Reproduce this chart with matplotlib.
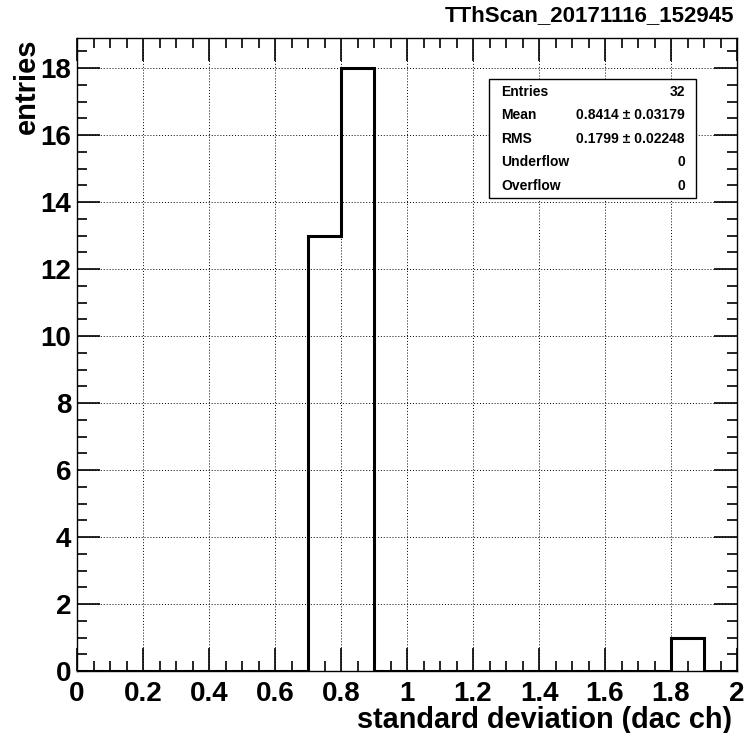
import matplotlib
matplotlib.use("Agg")
import matplotlib.pyplot as plt
import numpy as np
from matplotlib.ticker import MultipleLocator

plt.rcParams['font.family'] = ['Liberation Sans', 'DejaVu Sans']

bin_edges = [round(0.1 * i, 1) for i in range(21)]
counts = [0, 0, 0, 0, 0, 0, 0, 13, 18, 0, 0, 0, 0, 0, 0, 0, 0, 0, 1, 0]
title = "TThScan_20171116_152945"
xlabel = "standard deviation (dac ch)"
ylabel = "entries"
stats_labels = ["Entries", "Mean", "RMS", "Underflow", "Overflow"]
stats_values = ["32", "0.8414 \u00b1 0.03179", "0.1799 \u00b1 0.02248", "0", "0"]

fig = plt.figure(figsize=(7.51, 7.33), dpi=100)
ax = fig.add_axes([77/751, 1-671/733, (737-77)/751, (671-38)/733])

ax.stairs(counts, bin_edges, color='black', linewidth=2.2, baseline=0)

ax.xaxis.set_major_locator(MultipleLocator(0.2))
ax.xaxis.set_minor_locator(MultipleLocator(0.05))
ax.yaxis.set_major_locator(MultipleLocator(2))
ax.yaxis.set_minor_locator(MultipleLocator(0.5))

ax.tick_params(which='both', direction='in', top=True, right=True, width=1.2)
ax.tick_params(which='major', length=16.5)
ax.tick_params(which='minor', length=7.5)
ax.tick_params(axis='x', which='major', labelsize=20, pad=7)
ax.tick_params(axis='y', which='major', labelsize=20, pad=4)
xt = [round(0.2 * i, 1) for i in range(11)]
yt = list(range(0, 20, 2))
ax.set_xticks(xt)
ax.set_yticks(yt)
ax.set_xticklabels([f"{v:g}" for v in xt], fontweight='bold')
ax.set_yticklabels([f"{v:g}" for v in yt], fontweight='bold')
ax.set_xlim(0, 2)
ax.set_ylim(0, 18.9)

ax.grid(True, which='major', color='black', linestyle=(0, (1, 2)), linewidth=0.7)
ax.set_axisbelow(True)
for s in ax.spines.values():
    s.set_linewidth(1.0)

fig.text(732/751, 1-720/733, xlabel, ha='right', va='center', fontsize=20.8, fontweight='bold')
fig.text(27/751, 1-38/733, ylabel, ha='center', va='top', rotation=90, fontsize=21, fontweight='bold')
fig.text(734/751, 1-16/733, title, ha='right', va='center', fontsize=16, fontweight='bold')

# stats box
bx0, bx1, by0, by1 = 489, 696, 79, 198
fig.patches.append(plt.Rectangle((bx0/751, 1-by1/733), (bx1-bx0)/751, (by1-by0)/733,
                                 transform=fig.transFigure, facecolor='white',
                                 edgecolor='black', linewidth=1.0, zorder=5))
rows_y = [92, 115, 139, 162, 186]
for lab, val, yy in zip(stats_labels, stats_values, rows_y):
    fig.text(501/751, 1-yy/733, lab, ha='left', va='center', fontsize=10, fontweight='bold', zorder=6)
    fig.text(685/751, 1-yy/733, val, ha='right', va='center', fontsize=10, fontweight='bold', zorder=6)

fig.savefig("out.png", dpi=100)
